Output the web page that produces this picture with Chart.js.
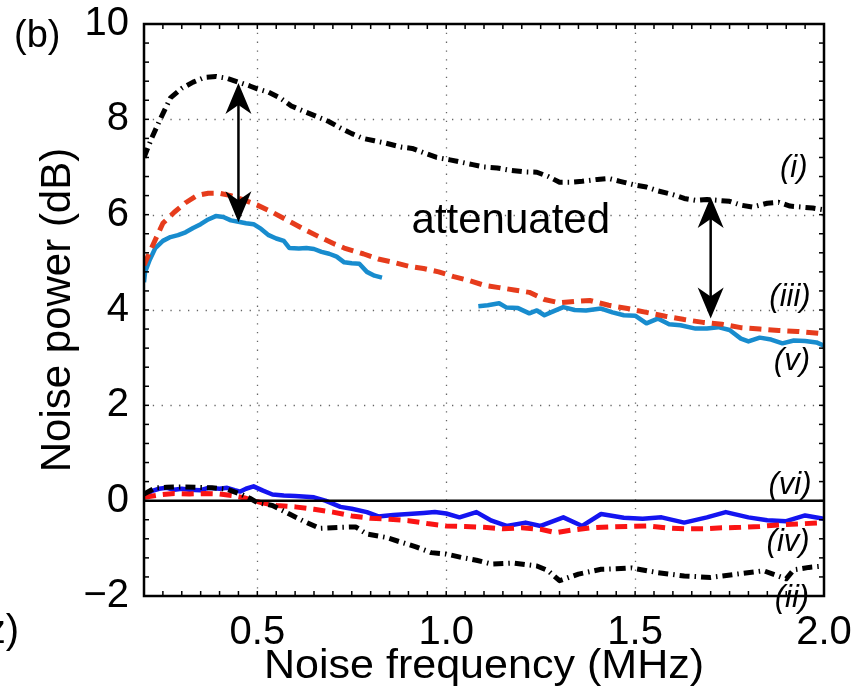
<!DOCTYPE html>
<html>
<head>
<meta charset="utf-8">
<script src="https://cdn.jsdelivr.net/npm/chart.js@4.4.0/dist/chart.umd.min.js"></script>
<style>
  body { margin: 0; background: #fff; }
  canvas { display: block; }
</style>
</head>
<body>
<canvas id="noiseChart" width="863" height="692"></canvas>
<script>
const FONT = '"Liberation Sans", Arial, Helvetica, sans-serif';

// axis ticks
const xTickValues = [0.5, 1.0, 1.5, 2.0];
const yTickValues = [-2, 0, 2, 4, 6, 8, 10];
const xGridValues = [0.5, 1.0, 1.5];
const yGridValues = [2, 4, 6, 8];

// (i) black dash-dot, upper
const freqI = [0.20, 0.22, 0.24, 0.27, 0.30, 0.33, 0.36, 0.39, 0.42, 0.45, 0.48, 0.50, 0.53, 0.56, 0.59, 0.62, 0.66, 0.69, 0.72, 0.75, 0.78, 0.81, 0.84, 0.88, 0.91, 0.94, 0.975, 1.01, 1.04, 1.07, 1.10, 1.135, 1.17, 1.205, 1.24, 1.27, 1.30, 1.33, 1.36, 1.40, 1.43, 1.46, 1.50, 1.53, 1.56, 1.60, 1.63, 1.66, 1.69, 1.72, 1.75, 1.78, 1.81, 1.85, 1.88, 1.91, 1.94, 1.97, 2.00];
const powerI = [7.2, 7.6, 7.95, 8.45, 8.65, 8.78, 8.88, 8.9, 8.86, 8.78, 8.7, 8.64, 8.57, 8.45, 8.28, 8.18, 8.05, 7.95, 7.82, 7.7, 7.6, 7.55, 7.5, 7.42, 7.39, 7.3, 7.2, 7.15, 7.1, 7.05, 7.0, 6.98, 6.93, 6.9, 6.89, 6.8, 6.68, 6.68, 6.7, 6.74, 6.76, 6.7, 6.62, 6.58, 6.5, 6.42, 6.34, 6.3, 6.32, 6.3, 6.28, 6.2, 6.16, 6.24, 6.26, 6.18, 6.16, 6.14, 6.1];

// (ii) black dash-dot, lower
const freqII = [0.20, 0.23, 0.26, 0.30, 0.34, 0.38, 0.42, 0.455, 0.48, 0.50, 0.54, 0.585, 0.62, 0.665, 0.72, 0.76, 0.79, 0.84, 0.88, 0.92, 0.96, 1.00, 1.04, 1.08, 1.12, 1.18, 1.24, 1.27, 1.30, 1.35, 1.41, 1.45, 1.49, 1.56, 1.63, 1.70, 1.77, 1.84, 1.90, 1.92, 1.96, 2.00];
const powerII = [0.14, 0.27, 0.28, 0.29, 0.28, 0.27, 0.24, 0.14, 0.05, -0.04, -0.1, -0.28, -0.42, -0.58, -0.56, -0.55, -0.7, -0.77, -0.87, -0.97, -1.09, -1.12, -1.19, -1.25, -1.33, -1.31, -1.37, -1.47, -1.68, -1.54, -1.44, -1.43, -1.41, -1.51, -1.58, -1.61, -1.54, -1.47, -1.64, -1.45, -1.4, -1.37];

// (iii) red dashed, upper
const freqIII = [0.20, 0.22, 0.25, 0.28, 0.31, 0.34, 0.37, 0.40, 0.43, 0.46, 0.50, 0.54, 0.58, 0.62, 0.66, 0.70, 0.73, 0.78, 0.82, 0.86, 0.90, 0.94, 0.98, 1.02, 1.06, 1.10, 1.14, 1.18, 1.22, 1.26, 1.30, 1.34, 1.38, 1.43, 1.48, 1.53, 1.58, 1.63, 1.68, 1.73, 1.78, 1.83, 1.88, 1.93, 2.00];
const powerIII = [4.94, 5.3, 5.82, 6.05, 6.25, 6.4, 6.45, 6.45, 6.4, 6.32, 6.2, 6.05, 5.88, 5.71, 5.55, 5.4, 5.3, 5.18, 5.07, 5.0, 4.92, 4.87, 4.8, 4.7, 4.62, 4.52, 4.47, 4.42, 4.37, 4.22, 4.15, 4.18, 4.2, 4.1, 4.03, 3.95, 3.87, 3.8, 3.74, 3.7, 3.63, 3.6, 3.57, 3.55, 3.5];

// (iv) red dashed, lower
const freqIV = [0.20, 0.24, 0.28, 0.32, 0.36, 0.40, 0.44, 0.47, 0.51, 0.55, 0.60, 0.65, 0.70, 0.75, 0.80, 0.85, 0.90, 0.95, 1.00, 1.05, 1.10, 1.15, 1.20, 1.25, 1.29, 1.33, 1.38, 1.43, 1.48, 1.53, 1.58, 1.63, 1.68, 1.73, 1.78, 1.83, 1.88, 1.93, 2.00];
const powerIV = [0.07, 0.12, 0.15, 0.14, 0.15, 0.14, 0.1, 0.05, -0.04, -0.1, -0.13, -0.18, -0.24, -0.32, -0.37, -0.39, -0.42, -0.48, -0.53, -0.54, -0.56, -0.59, -0.57, -0.6, -0.67, -0.62, -0.57, -0.55, -0.54, -0.53, -0.57, -0.59, -0.59, -0.57, -0.56, -0.54, -0.51, -0.49, -0.46];

// (v) light blue, upper (gap between 0.83 and 1.085)
const freqV = [0.20, 0.203, 0.215, 0.23, 0.25, 0.27, 0.29, 0.31, 0.33, 0.35, 0.37, 0.39, 0.41, 0.43, 0.45, 0.47, 0.49, 0.51, 0.53, 0.55, 0.57, 0.585, 0.61, 0.63, 0.65, 0.67, 0.69, 0.71, 0.73, 0.75, 0.77, 0.79, 0.81, 0.83, 0.95, 1.085, 1.11, 1.14, 1.16, 1.19, 1.22, 1.24, 1.26, 1.28, 1.31, 1.34, 1.37, 1.41, 1.44, 1.47, 1.50, 1.53, 1.56, 1.59, 1.62, 1.66, 1.69, 1.72, 1.75, 1.78, 1.80, 1.83, 1.86, 1.89, 1.92, 1.95, 1.98, 2.00];
const powerV = [4.58, 4.8, 5.05, 5.3, 5.45, 5.53, 5.57, 5.63, 5.72, 5.8, 5.9, 5.97, 5.95, 5.88, 5.85, 5.82, 5.8, 5.7, 5.57, 5.5, 5.45, 5.3, 5.29, 5.3, 5.28, 5.22, 5.18, 5.12, 5.0, 4.98, 4.97, 4.8, 4.72, 4.68, null, 4.08, 4.1, 4.14, 4.05, 4.04, 3.93, 3.99, 3.89, 3.96, 4.06, 4.0, 3.99, 4.03, 3.95, 3.89, 3.88, 3.72, 3.82, 3.7, 3.68, 3.61, 3.61, 3.64, 3.58, 3.4, 3.34, 3.42, 3.38, 3.3, 3.36, 3.35, 3.32, 3.25];

// (vi) blue, lower
const freqVI = [0.20, 0.22, 0.24, 0.26, 0.28, 0.30, 0.32, 0.35, 0.37, 0.40, 0.42, 0.44, 0.455, 0.47, 0.49, 0.515, 0.54, 0.57, 0.60, 0.63, 0.65, 0.68, 0.72, 0.75, 0.79, 0.82, 0.86, 0.90, 0.94, 0.97, 1.00, 1.035, 1.08, 1.12, 1.16, 1.21, 1.25, 1.31, 1.36, 1.41, 1.47, 1.52, 1.57, 1.63, 1.69, 1.74, 1.80, 1.85, 1.90, 1.95, 2.00];
const powerVI = [0.07, 0.2, 0.25, 0.27, 0.23, 0.25, 0.23, 0.22, 0.27, 0.25, 0.27, 0.22, 0.19, 0.25, 0.3, 0.21, 0.13, 0.11, 0.1, 0.08, 0.07, 0.0, -0.13, -0.17, -0.24, -0.33, -0.3, -0.28, -0.26, -0.24, -0.27, -0.35, -0.24, -0.42, -0.53, -0.46, -0.53, -0.35, -0.53, -0.28, -0.36, -0.38, -0.35, -0.46, -0.35, -0.24, -0.35, -0.41, -0.43, -0.31, -0.38];

// zero reference line
const zeroFreq = [0.2, 2.0];
const zeroPower = [0, 0];

// curve labels
const curveLabels = ['(i)', '(ii)', '(iii)', '(iv)', '(v)', '(vi)'];
const curveLabelX = [1.92, 1.915, 1.91, 1.905, 1.915, 1.91];
const curveLabelY = [6.8, -2.23, 4.08, -1.05, 2.75, 0.13];

// double arrows
const arrowFreq = [0.45, 1.7];
const arrowTop = [8.76, 6.37];
const arrowBottom = [5.84, 3.82];

const noteText = 'attenuated';
const noteX = 1.171;
const noteY = 5.61;

function pts(xs, ys) {
  return xs.map((v, i) => ({ x: v, y: ys[i] }));
}

function line(ctx, x1, y1, x2, y2) {
  ctx.beginPath();
  ctx.moveTo(x1, y1);
  ctx.lineTo(x2, y2);
  ctx.stroke();
}

function arrowHead(ctx, x, tipY, dir) {
  // dir = -1 points up, +1 points down
  const len = 31, half = 13, notch = 9;
  ctx.beginPath();
  ctx.moveTo(x, tipY);
  ctx.lineTo(x - half, tipY - dir * len);
  ctx.lineTo(x, tipY - dir * (len - notch));
  ctx.lineTo(x + half, tipY - dir * len);
  ctx.closePath();
  ctx.fill();
}

const framePlugin = {
  id: 'frame',
  beforeDatasetsDraw(chart) {
    const { ctx, chartArea: a, scales: { x, y } } = chart;
    ctx.save();
    ctx.strokeStyle = 'rgba(0,0,0,0.6)';
    ctx.lineWidth = 1.3;
    ctx.setLineDash([1.3, 7.5]);
    xGridValues.forEach(v => {
      const px = Math.round(x.getPixelForValue(v)) + 0.5;
      line(ctx, px, a.top, px, a.bottom);
    });
    yGridValues.forEach(v => {
      const py = Math.round(y.getPixelForValue(v)) + 0.5;
      line(ctx, a.left, py, a.right, py);
    });
    ctx.restore();
  },
  afterDatasetsDraw(chart) {
    const { ctx, chartArea: a, scales: { x, y } } = chart;
    ctx.save();
    // minor ticks, inward on all sides
    ctx.strokeStyle = '#000';
    ctx.lineWidth = 1.5;
    for (let i = 1; i < 36; i++) {
      const px = x.getPixelForValue(0.2 + i * 0.05);
      line(ctx, px, a.bottom, px, a.bottom - 5);
      line(ctx, px, a.top, px, a.top + 5);
    }
    for (let i = 1; i < 30; i++) {
      const py = y.getPixelForValue(-2 + i * 0.4);
      line(ctx, a.left, py, a.left + 5, py);
      line(ctx, a.right, py, a.right - 5, py);
    }
    // box
    ctx.lineWidth = 2.5;
    ctx.strokeRect(a.left, a.top, a.right - a.left, a.bottom - a.top);

    // arrows
    ctx.fillStyle = '#000';
    ctx.lineWidth = 2.5;
    arrowFreq.forEach((f, i) => {
      const px = x.getPixelForValue(f);
      const t = y.getPixelForValue(arrowTop[i]);
      const b = y.getPixelForValue(arrowBottom[i]);
      line(ctx, px, t + 15, px, b - 15);
      arrowHead(ctx, px, t, -1);
      arrowHead(ctx, px, b, 1);
    });

    // note
    ctx.font = '42px ' + FONT;
    ctx.textAlign = 'center';
    ctx.textBaseline = 'alphabetic';
    ctx.fillText(noteText, x.getPixelForValue(noteX), y.getPixelForValue(noteY));

    // curve labels
    ctx.font = 'italic 31px ' + FONT;
    curveLabels.forEach((t, i) => {
      ctx.fillText(t, x.getPixelForValue(curveLabelX[i]), y.getPixelForValue(curveLabelY[i]));
    });

    // axis titles
    ctx.font = '41px ' + FONT;
    ctx.save();
    ctx.translate((a.left + a.right) / 2, 678);
    ctx.scale(1.05, 1);
    ctx.fillText('Noise frequency (MHz)', 0, 0);
    ctx.restore();
    ctx.font = '42px ' + FONT;
    ctx.save();
    ctx.translate(70, (a.top + a.bottom) / 2);
    ctx.rotate(-Math.PI / 2);
    ctx.fillText('Noise power (dB)', 0, 0);
    ctx.restore();

    // panel letter and cut-off neighbour label
    ctx.font = '38px ' + FONT;
    ctx.textAlign = 'left';
    ctx.fillText('(b)', 14, 47);
    ctx.font = '40px ' + FONT;
    ctx.textAlign = 'right';
    ctx.fillText('z)', 19, 643);
    ctx.restore();
  }
};

const ctx = document.getElementById('noiseChart').getContext('2d');

new Chart(ctx, {
  type: 'scatter',
  data: {
    datasets: [
      { data: pts(zeroFreq, zeroPower), borderColor: '#000', borderWidth: 2.5 },
      { data: pts(freqII, powerII), borderColor: '#000', borderWidth: 5, borderDash: [10, 5, 1.5, 5] },
      { data: pts(freqIV, powerIV), borderColor: 'rgb(250,20,20)', borderWidth: 5, borderDash: [12, 7] },
      { data: pts(freqVI, powerVI), borderColor: 'rgb(20,20,240)', borderWidth: 4.5 },
      { data: pts(freqI, powerI), borderColor: '#000', borderWidth: 5, borderDash: [10, 5, 1.5, 5] },
      { data: pts(freqIII, powerIII), borderColor: 'rgb(230,60,28)', borderWidth: 5, borderDash: [12, 7] },
      { data: pts(freqV, powerV), borderColor: 'rgb(24,140,206)', borderWidth: 4.5 }
    ]
  },
  options: {
    responsive: false,
    animation: false,
    showLine: true,
    spanGaps: false,
    elements: {
      point: { radius: 0, hoverRadius: 0 },
      line: { tension: 0, fill: false, borderCapStyle: 'butt', borderJoinStyle: 'round' }
    },
    layout: { padding: { left: 0, right: 39, top: 24, bottom: 0 } },
    plugins: {
      legend: { display: false },
      tooltip: { enabled: false }
    },
    scales: {
      x: {
        type: 'linear',
        min: 0.2,
        max: 2.0,
        afterBuildTicks: s => { s.ticks = xTickValues.map(v => ({ value: v })); },
        afterFit: s => { s.height = 96; s.paddingLeft = 0; s.paddingRight = 0; },
        grid: { display: false },
        border: { display: false },
        ticks: {
          padding: 5,
          color: '#000',
          font: { family: FONT, size: 40 },
          maxRotation: 0,
          callback: v => v.toFixed(1)
        }
      },
      y: {
        type: 'linear',
        min: -2,
        max: 10,
        afterBuildTicks: s => { s.ticks = yTickValues.map(v => ({ value: v })); },
        afterFit: s => { s.width = 144; s.paddingTop = 0; s.paddingBottom = 0; },
        grid: { display: false },
        border: { display: false },
        ticks: {
          padding: 7,
          color: '#000',
          font: { family: FONT, size: 40, lineHeight: 1 },
          callback: v => (v < 0 ? '\u2212' + Math.abs(v) : String(v))
        }
      }
    }
  },
  plugins: [framePlugin]
});
</script>
</body>
</html>
